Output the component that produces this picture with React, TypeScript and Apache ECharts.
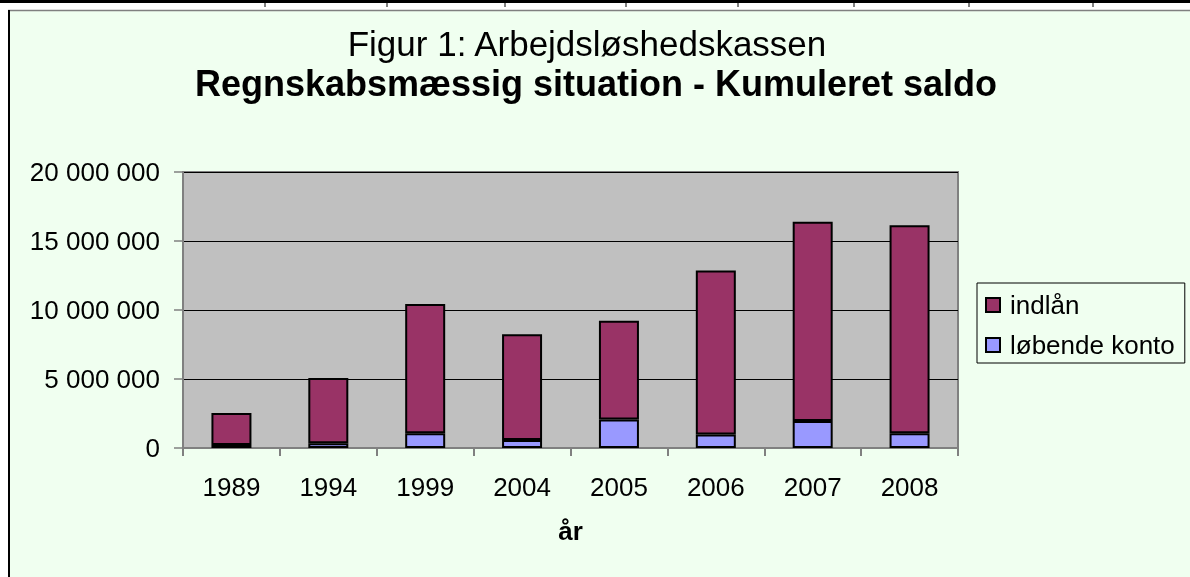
import React, { useEffect, useRef } from "react";
import * as echarts from "echarts";

const years = ["1989", "1994", "1999", "2004", "2005", "2006", "2007", "2008"];
const lobendeKonto = [220000, 340000, 1070000, 580000, 2060000, 970000, 1960000, 1070000];
const indlan = [2320000, 4740000, 9360000, 7670000, 7160000, 11900000, 14440000, 15070000];
const yTicks = [0, 5000000, 10000000, 15000000, 20000000];
const titleLine1 = "Figur 1: Arbejdsløshedskassen";
const titleLine2 = "Regnskabsmæssig situation - Kumuleret saldo";
const xAxisName = "år";
const tableDividers = [265, 387, 505, 626, 738, 854, 969, 1093];

const FONT = "'Liberation Sans', Arial, sans-serif";

function fmt(v: number): string {
  return String(Math.round(v)).replace(/\B(?=(\d{3})+(?!\d))/g, " ");
}

export default function App() {
  const ref = useRef<HTMLDivElement>(null);
  useEffect(() => {
    if (!ref.current) return;
    const chart = echarts.init(ref.current, undefined, { renderer: "svg" });
    const graphics: any[] = [
      { type: "rect", shape: { x: 0, y: 0, width: 1190, height: 577 }, style: { fill: "#ffffff" }, z: -20, silent: true },
      { type: "rect", shape: { x: 8, y: 10, width: 1190, height: 580 }, style: { fill: "#F0FFF0" }, z: -19, silent: true },
      { type: "line", shape: { x1: 8, y1: 10.5, x2: 1190, y2: 10.5 }, style: { stroke: "#808080", lineWidth: 1.5 }, z: -18, silent: true },
      { type: "line", shape: { x1: 9, y1: 10, x2: 9, y2: 577 }, style: { stroke: "#000000", lineWidth: 2 }, z: -18, silent: true },
      { type: "rect", shape: { x: 0, y: 0, width: 1190, height: 3 }, style: { fill: "#000000" }, z: -18, silent: true },
      ...tableDividers.map((x) => ({
        type: "line",
        shape: { x1: x, y1: 0, x2: x, y2: 7 },
        style: { stroke: "#000000", lineWidth: 1 },
        z: -18,
        silent: true,
      })),
      {
        type: "text",
        x: 587,
        y: 43,
        style: { text: titleLine1, font: `normal 35px ${FONT}`, fill: "#000", textAlign: "center", textVerticalAlign: "middle" },
      },
      {
        type: "text",
        x: 596,
        y: 83,
        style: { text: titleLine2, font: `bold 36px ${FONT}`, fill: "#000", textAlign: "center", textVerticalAlign: "middle" },
      },
    ];
    chart.setOption({
      animation: false,
      backgroundColor: "transparent",
      textStyle: { fontFamily: FONT },
      graphic: graphics,
      grid: {
        left: 183,
        top: 172,
        width: 775,
        height: 276,
        show: true,
        backgroundColor: "#C0C0C0",
        borderColor: "#808080",
        borderWidth: 2,
      },
      legend: {
        orient: "vertical",
        left: 977,
        top: 283,
        data: ["indlån", "løbende konto"],
        icon: "rect",
        itemWidth: 14,
        itemHeight: 14,
        itemGap: 14,
        padding: [9, 10, 5, 8],
        borderColor: "#000",
        borderWidth: 1,
        backgroundColor: "#F0FFF0",
        textStyle: { fontSize: 26, color: "#000", fontFamily: FONT, padding: [0, 0, 0, 5] },
      },
      xAxis: {
        type: "category",
        data: years,
        name: xAxisName,
        nameLocation: "middle",
        nameGap: 70,
        nameTextStyle: { fontSize: 26, fontWeight: "bold", color: "#000", fontFamily: FONT },
        axisLine: { show: true, lineStyle: { color: "#808080", width: 2 } },
        axisTick: { show: true, length: 8, lineStyle: { color: "#808080", width: 2 } },
        axisLabel: { fontSize: 26, color: "#000", margin: 26, fontFamily: FONT },
        splitLine: { show: false },
      },
      yAxis: {
        type: "value",
        min: yTicks[0],
        max: yTicks[yTicks.length - 1],
        interval: yTicks[1] - yTicks[0],
        axisLine: { show: true, lineStyle: { color: "#808080", width: 2 } },
        axisTick: { show: true, length: 9, lineStyle: { color: "#808080", width: 1.5 } },
        axisLabel: { fontSize: 26, color: "#000", margin: 23, fontFamily: FONT, formatter: (v: number) => fmt(v) },
        splitLine: { show: true, lineStyle: { color: "#000", width: 1 } },
      },
      series: [
        {
          name: "løbende konto",
          type: "bar",
          stack: "total",
          barWidth: 40,
          data: lobendeKonto,
          itemStyle: { color: "#9999FF", borderColor: "#000", borderWidth: 2 },
        },
        {
          name: "indlån",
          type: "bar",
          stack: "total",
          barWidth: 40,
          data: indlan,
          itemStyle: { color: "#993366", borderColor: "#000", borderWidth: 2 },
        },
      ],
    });
    return () => chart.dispose();
  }, []);
  return (
    <div
      ref={ref}
      style={{ position: "fixed", left: 0, top: 0, width: 1190, height: 577 }}
    />
  );
}
